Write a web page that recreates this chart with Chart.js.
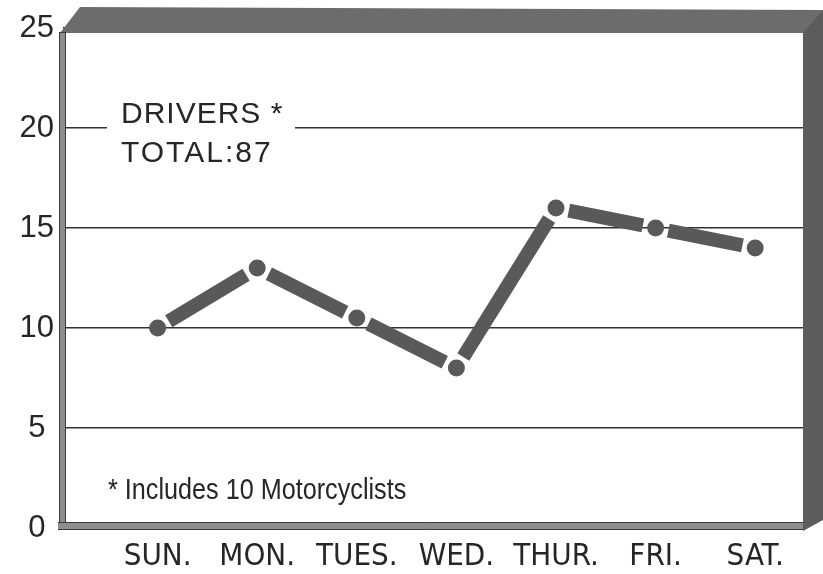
<!DOCTYPE html>
<html><head><meta charset="utf-8">
<script src="https://cdn.jsdelivr.net/npm/chart.js@4.4.1/dist/chart.umd.min.js"></script>
<style>html,body{margin:0;padding:0;background:#fff;}#wrap{width:823px;height:574px;position:relative;}</style>
</head><body><div id="wrap"><canvas id="c" width="823" height="574"></canvas></div>
<script>
const days = ['SUN.', 'MON.', 'TUES.', 'WED.', 'THUR.', 'FRI.', 'SAT.'];
const drivers = [10, 13, 10.5, 8, 16, 15, 14];
const yTicks = [0, 5, 10, 15, 20, 25];
const boxLines = ['DRIVERS *', 'TOTAL:87'];
const footnote = '* Includes 10 Motorcyclists';

const NARROW = '"DejaVu Sans Condensed", "Liberation Sans", sans-serif';
const SANS = '"Liberation Sans", Arial, sans-serif';
const INK = '#262626';
const MARK = '#595959';
const GAP = 13;

function segLen(c) { return Math.hypot(c.p1.x - c.p0.x, c.p1.y - c.p0.y); }

const framePlugin = {
  id: 'frame',
  afterDraw(chart) {
    const { ctx, chartArea: a } = chart;
    const L = a.left, R = a.right, T = a.top, B = a.bottom;
    ctx.save();
    // top + right faces of the box
    ctx.fillStyle = '#6c6c6c';
    ctx.beginPath();
    ctx.moveTo(L - 3, T + 5);
    ctx.lineTo(L + 17, T - 21);
    ctx.lineTo(823, T - 18);
    ctx.lineTo(823, T + 5);
    ctx.lineTo(R - 2, T + 5);
    ctx.closePath();
    ctx.fill();
    ctx.fillStyle = '#5c5c5c';
    ctx.beginPath();
    ctx.moveTo(R - 2, T + 5);
    ctx.lineTo(823, T - 18);
    ctx.lineTo(823, B - 8);
    ctx.lineTo(R - 2, B + 3);
    ctx.closePath();
    ctx.fill();
    // left band
    ctx.fillStyle = '#8d8d8d';
    ctx.strokeStyle = '#3a3a3a';
    ctx.lineWidth = 1;
    ctx.fillRect(L - 4, T + 4, 7, B - T - 2);
    ctx.strokeRect(L - 4 + 0.5, T + 4.5, 6, B - T - 3);
    // bottom band
    ctx.fillStyle = '#8d8d8d';
    ctx.fillRect(L - 5, B - 6, R - L + 3, 8);
    ctx.beginPath();
    ctx.moveTo(L - 5, B - 5.5); ctx.lineTo(R - 2, B - 5.5);
    ctx.moveTo(L - 5, B + 1.5); ctx.lineTo(R - 2, B + 1.5);
    ctx.stroke();
    // label box on the 20 line
    ctx.fillStyle = '#fff';
    ctx.fillRect(107, 96, 188, 76);
    ctx.fillStyle = INK;
    ctx.textBaseline = 'alphabetic';
    ctx.textAlign = 'left';
    ctx.font = '30px ' + SANS;
    try { ctx.letterSpacing = '1px'; } catch (e) {}
    ctx.fillText(boxLines[0], 121, 123);
    try { ctx.letterSpacing = '2px'; } catch (e) {}
    ctx.fillText(boxLines[1], 121, 162);
    try { ctx.letterSpacing = '0px'; } catch (e) {}
    // footnote, horizontally condensed
    ctx.save();
    ctx.translate(108, 499);
    ctx.scale(0.84, 1);
    ctx.font = '30px ' + SANS;
    ctx.fillText(footnote, 0, 0);
    ctx.restore();
    ctx.restore();
  }
};

new Chart(document.getElementById('c'), {
  type: 'line',
  data: {
    datasets: [{
      label: 'Drivers',
      data: drivers.map((v, i) => ({ x: i, y: v })),
      borderColor: MARK,
      borderWidth: 14,
      borderCapStyle: 'butt',
      tension: 0,
      pointRadius: 8.5,
      pointHoverRadius: 8.5,
      pointBackgroundColor: MARK,
      pointBorderWidth: 0,
      clip: false,
      segment: {
        borderDash: c => { const l = segLen(c); return [Math.max(l - 2 * GAP, 0), 2 * GAP]; },
        borderDashOffset: c => segLen(c) - GAP
      }
    }]
  },
  options: {
    responsive: false,
    animation: false,
    devicePixelRatio: 1,
    events: [],
    layout: { padding: { top: 28, right: 18, left: 0, bottom: 0 } },
    plugins: { legend: { display: false }, tooltip: { enabled: false } },
    scales: {
      x: {
        type: 'linear', min: -0.95, max: 6.5,
        afterBuildTicks: s => { s.ticks = days.map((d, i) => ({ value: i })); },
        afterFit: s => { s.height = 46; },
        grid: { display: false, drawTicks: false },
        border: { display: false },
        ticks: {
          autoSkip: false, maxRotation: 0, padding: 10, color: INK,
          font: { family: NARROW, size: 31 },
          callback: v => days[v] ?? ''
        }
      },
      y: {
        min: 0, max: 25,
        afterBuildTicks: s => { s.ticks = yTicks.map(v => ({ value: v })); },
        afterFit: s => { s.width = 63; },
        grid: { color: '#333', lineWidth: 1.5, drawTicks: false },
        border: { display: false },
        ticks: {
          padding: 9, crossAlign: 'center', color: INK,
          font: { family: SANS, size: 31 }
        }
      }
    }
  },
  plugins: [framePlugin]
});
</script></body></html>
